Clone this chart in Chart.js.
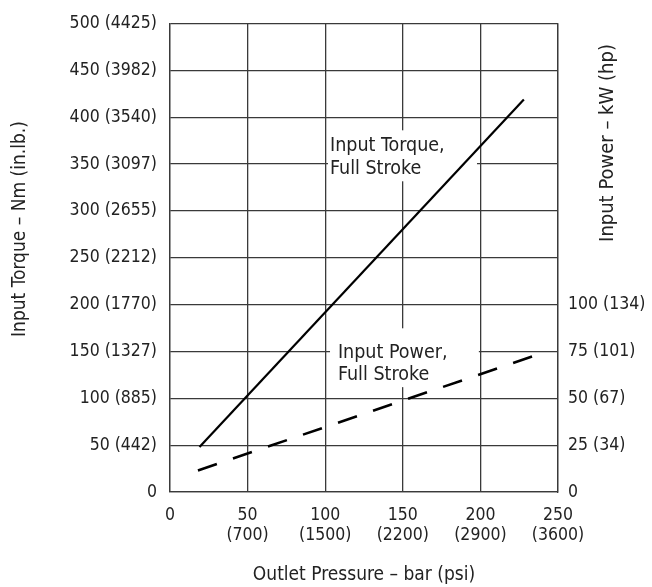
<!DOCTYPE html>
<html><head><meta charset="utf-8">
<script src="https://cdn.jsdelivr.net/npm/chart.js@4"></script>
<style>html,body{margin:0;padding:0;background:#fff}#wrap{width:652px;height:587px;position:relative}</style>
</head><body><div id="wrap"><canvas id="c"></canvas></div>
<script>
// ---- data ----
const torquePressure = [19, 228];          // bar
const torqueNm = [48, 419];                // Nm
const powerPressure = [18, 234];           // bar
const powerKW = [11.5, 72.5];              // kW
const xTickLabels = [['0'], ['50', '(700)'], ['100', '(1500)'], ['150', '(2200)'], ['200', '(2900)'], ['250', '(3600)']];
const yLeftTickLabels = ['0', '50 (442)', '100 (885)', '150 (1327)', '200 (1770)', '250 (2212)', '300 (2655)', '350 (3097)', '400 (3540)', '450 (3982)', '500 (4425)'];
const yRightTickLabels = ['0', '25 (34)', '50 (67)', '75 (101)', '100 (134)'];
const torqueLabel = ['Input Torque,', 'Full Stroke'];
const powerLabel = ['Input Power,', 'Full Stroke'];
const xTitle = 'Outlet Pressure \u2013 bar (psi)';
const yLeftTitle = 'Input Torque \u2013 Nm (in.lb.)';
const yRightTitle = 'Input Power \u2013 kW (hp)';

const FONT = "'DejaVu Sans Condensed', 'Liberation Sans Narrow', sans-serif";
const TXT = '#222';
const GRID = '#3a3a3a';

// label placement (data units of x / left y)
const labelBoxes = [
  {lines: torqueLabel, box: [101.8, 197.8, 386, 331.6], text: [103.1, 364, 339]},
  {lines: powerLabel, box: [103.1, 199, 174.7, 111.9], text: [108.2, 143.3, 119.2]}
];

const labelPlugin = {
  id: 'labels',
  beforeDatasetsDraw(chart) {
    const {ctx, scales: {x, y}} = chart;
    ctx.save();
    labelBoxes.forEach(l => {
      const x0 = x.getPixelForValue(l.box[0]), x1 = x.getPixelForValue(l.box[1]);
      const y0 = y.getPixelForValue(l.box[2]), y1 = y.getPixelForValue(l.box[3]);
      ctx.fillStyle = '#fff';
      ctx.fillRect(x0, y0, x1 - x0, y1 - y0);
      ctx.fillStyle = TXT;
      ctx.font = '19.5px ' + FONT;
      ctx.textBaseline = 'alphabetic';
      ctx.textAlign = 'left';
      const tx = x.getPixelForValue(l.text[0]);
      ctx.fillText(l.lines[0], tx, y.getPixelForValue(l.text[1]));
      ctx.fillText(l.lines[1], tx, y.getPixelForValue(l.text[2]));
    });
    ctx.restore();
  },
  afterDraw(chart) {
    const {ctx, chartArea} = chart;
    ctx.save();
    ctx.fillStyle = TXT;
    ctx.textAlign = 'center';
    ctx.textBaseline = 'middle';
    // right title
    ctx.save();
    ctx.translate(chartArea.right + 50, 143);
    ctx.rotate(-Math.PI / 2);
    ctx.font = '20px ' + FONT;
    ctx.fillText(yRightTitle, 0, 0);
    ctx.restore();
    // left title
    ctx.save();
    ctx.translate(20, 229);
    ctx.rotate(-Math.PI / 2);
    ctx.font = '19px ' + FONT;
    ctx.fillText(yLeftTitle, 0, 0);
    ctx.restore();
    ctx.restore();
  }
};

new Chart(document.getElementById('c'), {
  type: 'line',
  data: {
    datasets: [
      {
        label: 'Input Torque, Full Stroke',
        data: torquePressure.map((p, i) => ({x: p, y: torqueNm[i]})),
        borderColor: '#000', borderWidth: 2.2, pointRadius: 0, yAxisID: 'y', fill: false
      },
      {
        label: 'Input Power, Full Stroke',
        data: powerPressure.map((p, i) => ({x: p, y: powerKW[i]})),
        borderColor: '#000', borderWidth: 2.6, borderDash: [20, 17], pointRadius: 0, yAxisID: 'y1', fill: false
      }
    ]
  },
  options: {
    responsive: true, maintainAspectRatio: false, animation: false,
    layout: {padding: {top: 14, left: 0, right: 0, bottom: 0}},
    plugins: {legend: {display: false}, tooltip: {enabled: false}},
    scales: {
      x: {
        type: 'linear', min: 0, max: 250,
        afterFit(s) { s.height = 95; },
        ticks: {stepSize: 50, color: TXT, padding: 13, maxRotation: 0,
          font: {family: FONT, size: 17.5, lineHeight: 1.15},
          callback: (v, i) => xTickLabels[i]},
        grid: {color: GRID, lineWidth: 1.3, drawTicks: false},
        border: {display: true, color: GRID, width: 1.3},
        title: {display: true, text: xTitle, color: TXT, font: {family: FONT, size: 19}, padding: {top: 0, bottom: 1}}
      },
      y: {
        type: 'linear', position: 'left', min: 0, max: 500,
        afterFit(s) { s.width = 170; },
        ticks: {stepSize: 50, color: TXT, padding: 13, font: {family: FONT, size: 17.5},
          callback: (v, i) => yLeftTickLabels[i]},
        grid: {color: GRID, lineWidth: 1.3, drawTicks: false},
        border: {display: true, color: GRID, width: 1.3}
      },
      y1: {
        type: 'linear', position: 'right', min: 0, max: 250,
        afterFit(s) { s.width = 94; },
        ticks: {stepSize: 25, color: TXT, padding: 10, font: {family: FONT, size: 17.5},
          callback: (v, i) => (v <= 100 ? yRightTickLabels[i] : '')},
        grid: {display: false, drawTicks: false},
        border: {display: true, color: GRID, width: 1.3}
      }
    }
  },
  plugins: [labelPlugin]
});
</script>
</body></html>
